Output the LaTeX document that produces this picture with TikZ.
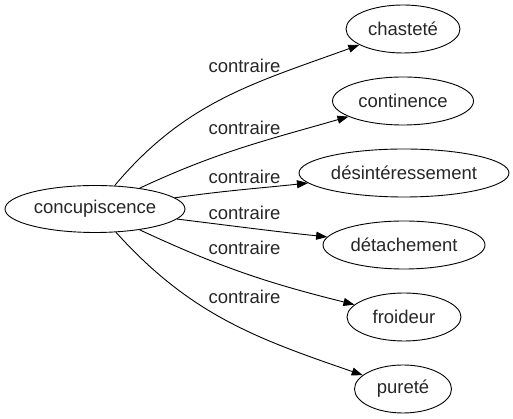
\documentclass[tikz,border=0pt]{standalone}
\usepackage{fontspec}
\setmainfont{Liberation Sans}
\usetikzlibrary{arrows.meta, shapes}
\tikzset{
    x=1pt, y=1pt, % one unit is one pixel of the picture
    every picture/.style={font=\fontsize{18.5}{22}\selectfont, text=black!85},
    word/.style={draw, ellipse, line width=0.9pt, inner sep=0pt, minimum height=48pt}, % sets the properties for each word
    link/.style={line width=0.9pt, -{Triangle[length=11pt, width=8pt]}}, % the arrows between the words
    rel/.style={inner sep=1pt}, % the text on the arrows
}
\begin{document}
\begin{tikzpicture}
        \useasboundingbox (0,0) rectangle (513,419);
        \node[word, minimum width=180pt, minimum height=47pt] (conc) at (95,210) {concupiscence};
        \node[word, minimum width=114pt] (chaste) at (403,390) {chasteté};
        \node[word, minimum width=141pt] (contin) at (403,318) {continence};
        \node[word, minimum width=210pt] (desint) at (404,246) {désintéressement};
        \node[word, minimum width=162pt] (detach) at (404,174) {détachement};
        \node[word, minimum width=114pt] (froid) at (404,102) {froideur};
        \node[word, minimum width=97pt] (pur) at (403,30) {pureté};
        \node[rel] (r1) at (244.5,353) {contraire};
        \node[rel] (r2) at (244.5,291) {contraire};
        \node[rel] (r3) at (244.5,242) {contraire};
        \node[rel] (r4) at (244.5,206) {contraire};
        \node[rel] (r5) at (244.5,171) {contraire};
        \node[rel] (r6) at (244.5,122) {contraire};
        \draw[link] (conc) to[out=50, in=200] (chaste);
        \draw[link] (conc) to[out=25, in=196] (contin);
        \draw[link] (conc) to[out=8, in=186] (desint);
        \draw[link] (conc) to[out=-7, in=174] (detach);
        \draw[link] (conc) to[out=-25, in=166] (froid);
        \draw[link] (conc) to[out=-48, in=161] (pur);
    \end{tikzpicture}
\end{document}
